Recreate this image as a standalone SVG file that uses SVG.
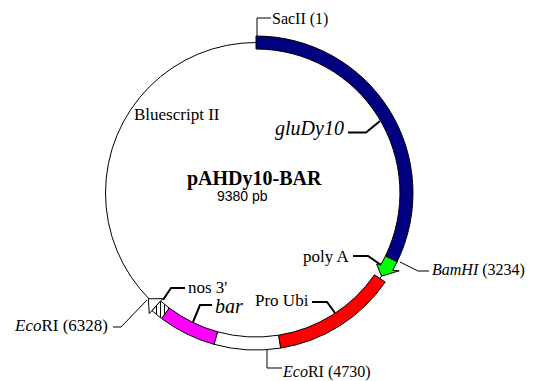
<svg xmlns="http://www.w3.org/2000/svg" width="542" height="381" viewBox="0 0 542 381">
<style>
.t{font-family:"Liberation Serif","Times New Roman",serif;fill:#000}
.seg{stroke:#000;stroke-width:1}
.lead{fill:none;stroke:#000;stroke-width:1}
.leadf{fill:none;stroke:#000;stroke-width:2}
</style>
<defs>
<pattern id="hatch" width="4" height="4" patternUnits="userSpaceOnUse">
<rect width="4" height="4" fill="#fff"/>
<line x1="0.5" y1="0" x2="0.5" y2="4" stroke="#000" stroke-width="1"/>
</pattern>
</defs>
<rect width="542" height="381" fill="#fff"/>
<g id="backbone">
<circle cx="256" cy="193" r="150.5" fill="none" stroke="#000" stroke-width="1"/>
</g>
<g id="gluDy10">
<path class="seg" fill="#000080" d="M256,36 A157,157 0 0 1 397.1,261.8 L385.4,256.1 A144,144 0 0 0 256,49 Z"/>
</g>
<g id="polyA">
<path class="seg" fill="#00ff00" d="M397.1,261.8 A157,157 0 0 1 392.7,270.3 L399.2,270.8 L381.5,276.1 L376.6,264.1 L381.3,263.9 A144,144 0 0 0 385.4,256.1 Z"/>
</g>
<g id="proUbi">
<path class="seg" fill="#ff0000" d="M385.2,282.1 A157,157 0 0 1 280.6,348.1 L278.5,335.2 A144,144 0 0 0 374.5,274.8 Z"/>
</g>
<g id="spacer">
<path class="seg" fill="#fff" d="M280.6,348.1 A157,157 0 0 1 214.0,344.3 L217.5,331.8 A144,144 0 0 0 278.5,335.2 Z"/>
</g>
<g id="bar">
<path class="seg" fill="#ff00ff" d="M214.0,344.3 A157,157 0 0 1 161.5,318.4 L169.3,308.0 A144,144 0 0 0 217.5,331.8 Z"/>
</g>
<g id="nos3">
<path class="seg" fill="url(#hatch)" d="M161.5,318.4 A157,157 0 0 1 152.0,310.6 L160.6,300.9 A144,144 0 0 0 169.3,308.0 Z"/>
<path class="seg" fill="#fff" d="M152.0,310.6 L149.3,313.6 L148.3,298.8 L162.6,298.6 L160.6,300.9 Z"/>
</g>
<g id="connectors">
<path class="lead" d="M257,36 V18 H271"/>
<path class="leadf" d="M348,132.5 H366 L380,121"/>
<path class="leadf" d="M353,256 H368 L381,265"/>
<path class="lead" d="M400,262 L418,271 H429"/>
<path class="leadf" d="M312,302 H327 L335,313"/>
<path class="lead" d="M267,350 V368 H282"/>
<path class="leadf" d="M212,305 H200 L193,322"/>
<path class="leadf" d="M163,300 L171,288 H185"/>
<path class="lead" d="M113,327 H121 L147,300"/>
</g>
<g id="labels">
<text class="t" x="272" y="24" font-size="16">SacII (1)</text>
<text class="t" x="275" y="135" font-size="20" font-style="italic">gluDy10</text>
<text class="t" x="134" y="120" font-size="17">Bluescript II</text>
<text class="t" x="187" y="185" font-size="20" font-weight="bold">pAHDy10-BAR</text>
<text x="217" y="201" font-size="14" font-family="'Liberation Sans',Arial,sans-serif">9380 pb</text>
<text class="t" x="303" y="262" font-size="17">poly A</text>
<text class="t" x="432" y="275" font-size="16"><tspan font-style="italic">BamHI</tspan> (3234)</text>
<text class="t" x="255" y="306" font-size="17">Pro Ubi</text>
<text class="t" x="283" y="377" font-size="16"><tspan font-style="italic">Eco</tspan>RI (4730)</text>
<text class="t" x="215" y="313" font-size="20" font-style="italic">bar</text>
<text class="t" x="188" y="293" font-size="17">nos 3'</text>
<text class="t" x="15" y="331" font-size="17"><tspan font-style="italic">Eco</tspan>RI (6328)</text>
</g>
</svg>
